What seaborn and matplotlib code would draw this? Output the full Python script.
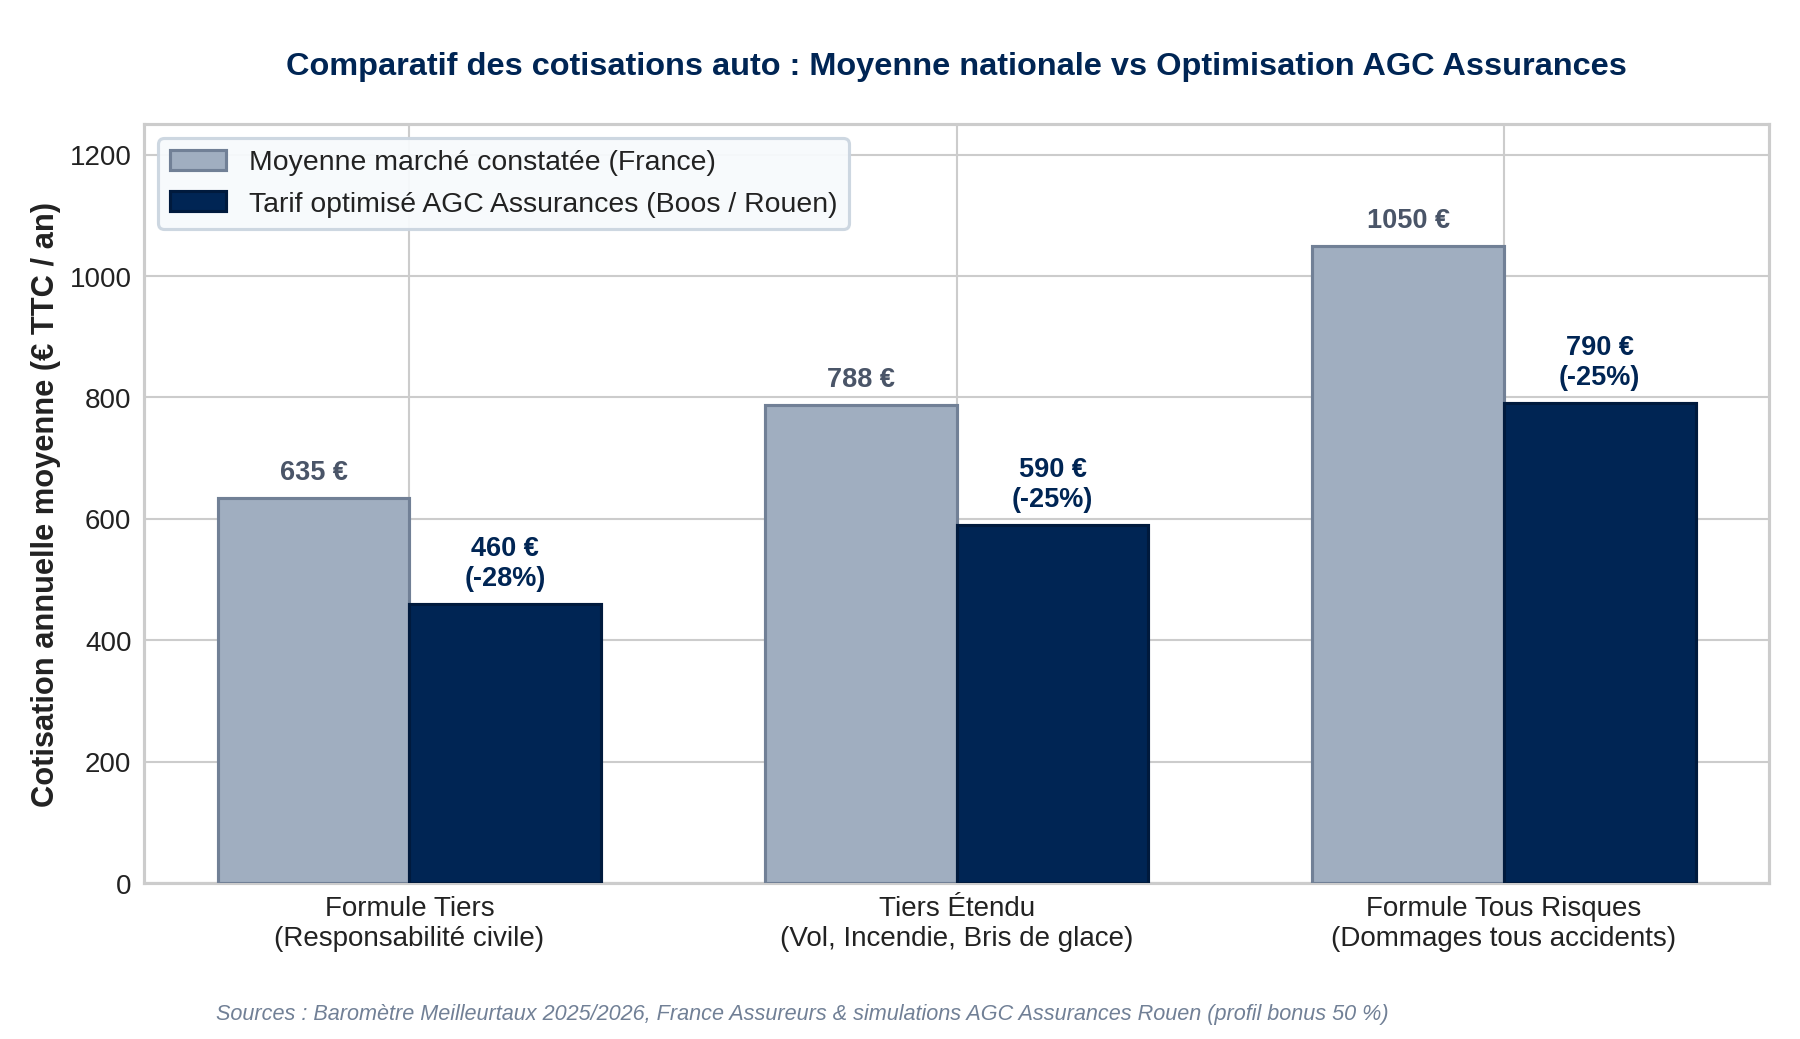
import numpy as np
import pandas as pd
import matplotlib
matplotlib.use("Agg")
import matplotlib.pyplot as plt
from matplotlib.patches import Patch
import seaborn as sns

# donnees
categories = ["Formule Tiers\n(Responsabilité civile)",
              "Tiers Étendu\n(Vol, Incendie, Bris de glace)",
              "Formule Tous Risques\n(Dommages tous accidents)"]
marche = [635, 788, 1050]
agc = [460, 590, 790]
reductions = ["-28%", "-25%", "-25%"]
series = ["Moyenne marché constatée (France)",
          "Tarif optimisé AGC Assurances (Boos / Rouen)"]

gris = "#A0AEC0"
gris_bord = "#718096"
navy = "#002554"
navy_bord = "#001a3d"

df = pd.DataFrame({
    "categorie": categories * 2,
    "serie": [series[0]] * 3 + [series[1]] * 3,
    "valeur": marche + agc,
})

sns.set_theme(style="whitegrid")
plt.rcParams['font.family'] = ['Liberation Sans', 'DejaVu Sans']

fig, ax = plt.subplots(figsize=(12, 6.93), dpi=150)
fig.subplots_adjust(left=0.080, right=0.983, top=0.880, bottom=0.150)

sns.barplot(data=df, x="categorie", y="valeur", hue="serie",
            palette=[gris, navy], width=0.7, gap=0, saturation=1,
            ax=ax, zorder=3, legend=False)

# bordures des barres
for cont, bord in zip(ax.containers, [gris_bord, navy_bord]):
    for b in cont:
        b.set_edgecolor(bord)
        b.set_linewidth(1.5)

# etiquettes
for b, v in zip(ax.containers[0], marche):
    ax.annotate(f"{v} €", (b.get_x() + b.get_width() / 2, b.get_height()),
                xytext=(0, 6), textcoords="offset points", ha="center", va="bottom",
                fontsize=13, fontweight="bold", color="#4A5568")
for b, v, r in zip(ax.containers[1], agc, reductions):
    ax.annotate(f"{v} €\n({r})", (b.get_x() + b.get_width() / 2, b.get_height()),
                xytext=(0, 6), textcoords="offset points", ha="center", va="bottom",
                fontsize=13, fontweight="bold", color=navy, multialignment="center")

ax.set_xlim(-0.485, 2.485)
ax.set_ylim(0, 1250)
ax.set_yticks([0, 200, 400, 600, 800, 1000, 1200])
ax.xaxis.grid(True, color="#cccccc", linewidth=1)
ax.yaxis.grid(True, color="#cccccc", linewidth=1)
ax.set_axisbelow(True)
for s in ax.spines.values():
    s.set_color("#cccccc")
    s.set_linewidth(1.5)

ax.tick_params(axis="both", labelsize=13.3, colors="#222222", length=0, pad=6)
ax.set_xlabel("")
ax.set_ylabel("Cotisation annuelle moyenne (€ TTC / an)", fontsize=14.8,
              fontweight="bold", color="#222222", labelpad=4)
ax.set_title("Comparatif des cotisations auto : Moyenne nationale vs Optimisation AGC Assurances",
             fontsize=15.6, fontweight="bold", color=navy, pad=24)

handles = [Patch(facecolor=gris, edgecolor=gris_bord, linewidth=1.5),
           Patch(facecolor=navy, edgecolor=navy_bord, linewidth=1.5)]
leg = ax.legend(handles, series, loc="upper left", fontsize=13.6, frameon=True,
                facecolor="#F7FAFC", edgecolor="#CBD5E0", framealpha=0.95,
                borderpad=0.4, labelspacing=0.55)
leg.get_frame().set_linewidth(1.5)
leg.set_zorder(5)
for t in leg.get_texts():
    t.set_color("#222222")

fig.text(0.12, 0.019, "Sources : Baromètre Meilleurtaux 2025/2026, France Assureurs & simulations AGC Assurances Rouen (profil bonus 50 %)",
         fontsize=10.4, style="italic", color="#718096")

fig.savefig("out.png", dpi=150)
